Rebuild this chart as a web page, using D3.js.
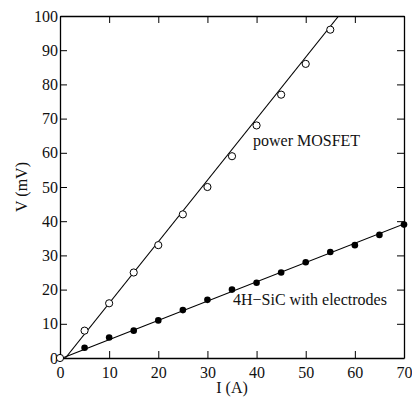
<!DOCTYPE html>
<html>
<head>
<meta charset="utf-8">
<script src="https://cdn.jsdelivr.net/npm/d3@7"></script>
<style>
	body { margin: 0; background: #fff; }
</style>
</head>
<body>
<div id="chart"></div>
<script>
// measured points
var mosI = [0, 5, 10, 15, 20, 25, 30, 35, 40, 45, 50, 55];
var mosV = [0, 8, 16, 25, 33, 42, 50, 59, 68, 77, 86, 96];
var sicI = [5, 10, 15, 20, 25, 30, 35, 40, 45, 50, 55, 60, 65, 70];
var sicV = [3, 6, 8, 11, 14, 17, 20, 22, 25, 28, 31, 33, 36, 39];
var mosFit = [[1.1, 0], [56.7, 100]];
var sicFit = [[0.5, 0], [70, 39.2]];
var xTicks = [0, 10, 20, 30, 40, 50, 60, 70];
var yTicks = [0, 10, 20, 30, 40, 50, 60, 70, 80, 90, 100];

(function(){
	var width = 412;
	var height = 400;
	var m = {top: 16, right: 8, bottom: 42, left: 60};
	var w = width - m.left - m.right;
	var h = height - m.top - m.bottom;
	var serif = '"Liberation Serif", Times, serif';

	var svg = d3.select('#chart').append('svg')
		.attr('width', width)
		.attr('height', height)
		.attr('font-family', serif);

	var x = d3.scaleLinear().domain([0, 70]).range([0, w]);
	var y = d3.scaleLinear().domain([0, 100]).range([h, 0]);

	svg.append('defs').append('clipPath').attr('id', 'clip')
		.append('rect').attr('width', w).attr('height', h);

	var g = svg.append('g').attr('transform', 'translate(' + m.left + ',' + m.top + ')');

	// axes, ticks pointing inward
	g.append('g').attr('transform', 'translate(0,' + h + ')')
		.call(d3.axisBottom(x).tickValues(xTicks).tickSizeInner(-7).tickSizeOuter(0).tickPadding(9));
	g.append('g')
		.call(d3.axisLeft(y).tickValues(yTicks).tickSizeInner(-7).tickSizeOuter(0).tickPadding(2));
	g.append('g')
		.call(d3.axisTop(x).tickValues(xTicks).tickSizeInner(-7).tickSizeOuter(0).tickFormat(''));
	g.append('g').attr('transform', 'translate(' + w + ',0)')
		.call(d3.axisRight(y).tickValues(yTicks).tickSizeInner(-7).tickSizeOuter(0).tickFormat(''));

	g.selectAll('g').attr('font-family', serif);
	g.selectAll('.domain').attr('stroke', '#000').attr('stroke-width', 1.3);
	g.selectAll('.tick line').attr('stroke', '#000');
	g.selectAll('.tick text').attr('font-size', 16).attr('fill', '#111');

	var line = d3.line().x(function(d){ return x(d[0]); }).y(function(d){ return y(d[1]); });
	var plot = g.append('g').attr('clip-path', 'url(#clip)');

	plot.append('path').datum(mosFit).attr('d', line)
		.attr('fill', 'none').attr('stroke', '#000').attr('stroke-width', 1.1);
	plot.append('path').datum(sicFit).attr('d', line)
		.attr('fill', 'none').attr('stroke', '#000').attr('stroke-width', 1.1);

	g.selectAll('.mos')
		.data(mosI)
		.enter()
		.append('circle')
		.attr('class', 'mos')
		.attr('cx', function(d){ return x(d); })
		.attr('cy', function(d, i){ return y(mosV[i]); })
		.attr('r', 3.6)
		.attr('fill', '#fff')
		.attr('stroke', '#000')
		.attr('stroke-width', 1);

	g.selectAll('.sic')
		.data(sicI)
		.enter()
		.append('circle')
		.attr('class', 'sic')
		.attr('cx', function(d){ return x(d); })
		.attr('cy', function(d, i){ return y(sicV[i]); })
		.attr('r', 3.3)
		.attr('fill', '#000');

	// series labels
	g.append('text')
		.attr('x', 193)
		.attr('y', 130)
		.attr('font-size', 16)
		.attr('fill', '#111')
		.text('power MOSFET');
	g.append('text')
		.attr('x', 173)
		.attr('y', 289)
		.attr('font-size', 16)
		.attr('fill', '#111')
		.text('4H\u2212SiC with electrodes');

	// axis titles
	svg.append('text')
		.attr('x', m.left + w / 2)
		.attr('y', 393)
		.attr('text-anchor', 'middle')
		.attr('font-size', 16)
		.attr('fill', '#111')
		.text('I (A)');
	svg.append('text')
		.attr('transform', 'translate(27,' + (m.top + h / 2) + ') rotate(-90)')
		.attr('text-anchor', 'middle')
		.attr('font-size', 16)
		.attr('fill', '#111')
		.text('V (mV)');
})();
</script>
</body>
</html>
